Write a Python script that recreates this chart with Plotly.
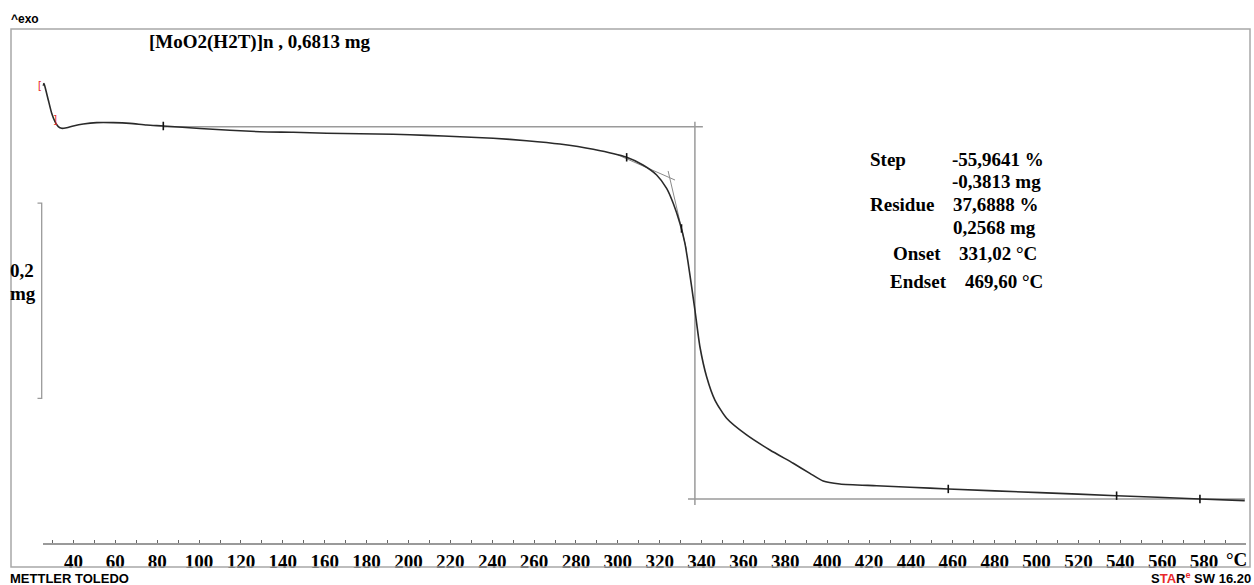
import plotly.graph_objects as go

# ---------------- data ----------------
TEMP_C = [25.2, 25.9, 26.39, 27.97, 29.59, 31.17, 32.74, 34.37, 36.75, 39.9, 44.68, 51.08, 59.0,
          66.98, 74.96, 82.88, 100.4, 129.07, 144.97, 160.92, 176.82, 192.72, 208.67, 224.57,
          240.47, 256.42, 272.33, 288.23, 304.18, 311.97, 318.51, 323.29, 326.44, 329.64,
          332.03, 333.60, 335.23, 336.80, 339.19, 342.39, 346.35, 351.94, 361.49, 372.62,
          383.75, 391.72, 398.07, 406.04, 423.57, 439.47, 457.76, 501.55, 538.18, 577.97, 599.4]
MASS_MG = [0.6800, 0.6825, 0.6792, 0.6656, 0.6520, 0.6434, 0.6383, 0.6366, 0.6372, 0.6390, 0.6410,
           0.6424, 0.6424, 0.6417, 0.6400, 0.6390, 0.6364, 0.6331, 0.6325, 0.6315, 0.6311, 0.6305,
           0.6294, 0.6280, 0.6264, 0.6239, 0.6205, 0.6151, 0.6069, 0.5990, 0.5888, 0.5751,
           0.5598, 0.5393, 0.5188, 0.4983, 0.4743, 0.4505, 0.4128, 0.3821, 0.3582, 0.3395,
           0.3224, 0.3070, 0.2934, 0.2831, 0.2752, 0.2722, 0.2704, 0.2688, 0.2671, 0.2633,
           0.2602, 0.2568, 0.2551]

MARK_T = [82.9, 304.2, 330.4, 457.8, 538.2, 578.0]
MARK_M = [0.6390, 0.6069, 0.5340, 0.2671, 0.2602, 0.2568]

X_TICKS = list(range(40, 600, 20))
X_TICK_LABELS = [str(v) for v in X_TICKS]

TITLE = "[MoO2(H2T)]n , 0,6813 mg"
INITIAL_MASS = 0.6813
STEP_MG = -0.3813
RESIDUE_MG = 0.2568
UPPER_LINE_T = [82.9, 340.6]
LOWER_LINE_T = [333.5, 599.5]
VERTICAL_T = 336.8
VERTICAL_M = [0.6434, 0.2507]
BASE_TANGENT_T = [300.0, 327.3]
BASE_TANGENT_M = [0.6093, 0.5836]
STEEP_TANGENT_T = [324.0, 332.8]
STEEP_TANGENT_M = [0.5929, 0.5119]
SCALE_BAR_TOP = 0.5600
SCALE_BAR_LEN = 0.2

RESULT_LABELS = ["Step", "", "Residue", "", "Onset", "Endset"]
RESULT_VALUES = ["-55,9641 %", "-0,3813 mg", "37,6888 %", "0,2568 mg", "331,02 °C", "469,60 °C"]

# ---------------- figure ----------------
W, H, B = 1254, 585, 42
PLOT_H = H - B


def px(x):
    return x / W


def py(y):
    return (PLOT_H - y) / PLOT_H


SERIF = "Liberation Serif"
SANS = "Liberation Sans"
GREY = "#9a9a9a"
RED = "#e8282b"

fig = go.Figure()

# reference lines of the evaluation
upper_m = RESIDUE_MG - STEP_MG
fig.add_trace(go.Scatter(x=UPPER_LINE_T, y=[upper_m, upper_m], mode="lines",
                         line=dict(color=GREY, width=1.5), hoverinfo="skip"))
fig.add_trace(go.Scatter(x=LOWER_LINE_T, y=[RESIDUE_MG, RESIDUE_MG], mode="lines",
                         line=dict(color=GREY, width=1.5), hoverinfo="skip"))
fig.add_trace(go.Scatter(x=[VERTICAL_T, VERTICAL_T], y=VERTICAL_M, mode="lines",
                         line=dict(color=GREY, width=1.5), hoverinfo="skip"))
fig.add_trace(go.Scatter(x=BASE_TANGENT_T, y=BASE_TANGENT_M, mode="lines",
                         line=dict(color="#8a8a8a", width=1), hoverinfo="skip"))
fig.add_trace(go.Scatter(x=STEEP_TANGENT_T, y=STEEP_TANGENT_M, mode="lines",
                         line=dict(color="#8a8a8a", width=1), hoverinfo="skip"))

# TGA curve
fig.add_trace(go.Scatter(x=TEMP_C, y=MASS_MG, mode="lines",
                         line=dict(color="#2a2a2a", width=1.6, shape="spline", smoothing=0.6)))
fig.add_trace(go.Scatter(x=MARK_T, y=MARK_M, mode="markers",
                         marker=dict(symbol="line-ns", size=6,
                                     line=dict(color="#111111", width=1.6)),
                         hoverinfo="skip"))

shapes = [
    # frame
    dict(type="rect", xref="paper", yref="paper", x0=px(11), x1=px(1250), y0=py(567), y1=py(29),
         line=dict(color="#a8a8a8", width=1.5)),
    # 0,2 mg scale bar
    dict(type="path", xref="paper", yref="y",
         path=f"M {px(37.5)},{SCALE_BAR_TOP} L {px(41.7)},{SCALE_BAR_TOP} "
              f"L {px(41.7)},{SCALE_BAR_TOP - SCALE_BAR_LEN} L {px(37.5)},{SCALE_BAR_TOP - SCALE_BAR_LEN}",
         line=dict(color=GREY, width=1.3)),
]

ann = []


def text(x, y, s, size, family=SERIF, anchor="left", color="black", weight="bold", yanchor="middle",
         xref="paper", yref="paper"):
    ann.append(dict(x=px(x) if xref == "paper" else x, y=py(y) if yref == "paper" else y,
                    xref=xref, yref=yref, text=s, showarrow=False,
                    xanchor=anchor, yanchor=yanchor,
                    font=dict(family=family, size=size, color=color, weight=weight)))


text(9, 19, "^exo", 12, family=SANS)
text(147, 42, TITLE, 19)
text(8, 270, "0,2", 19)
text(8, 293, "mg", 19)
text(1224, 559, "°C", 19)
text(8, 578, "METTLER TOLEDO", 13, family=SANS)
text(1253, 578, f"S<span style='color:{RED}'>TA</span>R<sup><span style='color:{RED}'>e</span></sup> SW 16.20",
     13, family=SANS, anchor="right")
# red start / end brackets of the curve segment
text(42.5, 85, "[", 11, family=SANS, anchor="right", color=RED, weight="normal")
text(55, 119, "]", 11, family=SANS, anchor="center", color=RED, weight="normal")

label_pos = [(868, 159), None, (868, 204), None, (891, 253), (888, 281.5)]
value_pos = [(950, 159), (950, 181), (950.5, 204), (951, 227), (956.5, 253), (963, 281.5)]
for lab, lp in zip(RESULT_LABELS, label_pos):
    if lp is not None and lab:
        text(lp[0], lp[1], lab, 19)
for val, vp in zip(RESULT_VALUES, value_pos):
    text(vp[0], vp[1], val, 19)

y_top = RESIDUE_MG + 499 / 976
y_bot = RESIDUE_MG - 44 / 976

fig.update_layout(
    width=W, height=H,
    margin=dict(l=0, r=0, t=0, b=B, pad=0, autoexpand=False),
    paper_bgcolor="white", plot_bgcolor="white",
    showlegend=False,
    shapes=shapes, annotations=ann,
    xaxis=dict(domain=[42.7 / W, 1246 / W], range=[25.3, 600],
               showgrid=False, zeroline=False, showline=True, linecolor=GREY, linewidth=1.5,
               tickmode="array", tickvals=X_TICKS, ticktext=[f"<b>{t}</b>" for t in X_TICK_LABELS],
               ticks="inside", ticklen=3, tickcolor="#666", tickwidth=1,
               minor=dict(dtick=10, tick0=30, ticks="inside", ticklen=3, tickcolor="#666", tickwidth=1),
               tickfont=dict(family=SERIF, size=19, color="black", weight="bold"),
               automargin=False, fixedrange=True),
    yaxis=dict(range=[y_bot, y_top], visible=False, showgrid=False, zeroline=False,
               automargin=False, fixedrange=True),
)

fig.write_html("out.html", config={"displayModeBar": False},
               post_script="document.body.style.margin='0';document.body.style.overflow='hidden';")
